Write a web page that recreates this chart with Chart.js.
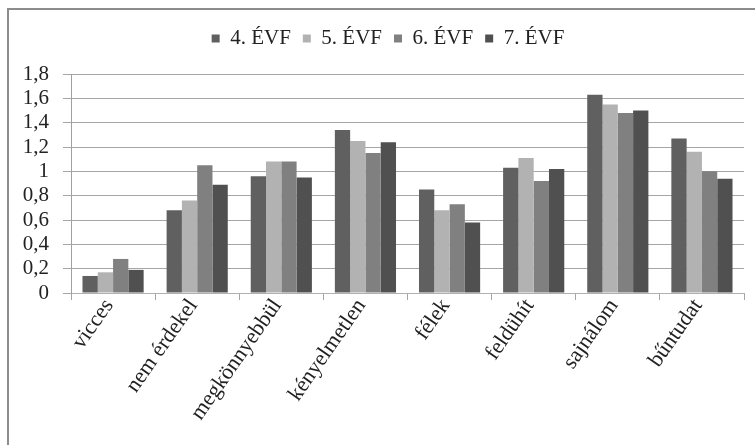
<!DOCTYPE html>
<html>
<head>
<meta charset="utf-8">
<script src="https://cdn.jsdelivr.net/npm/chart.js@4/dist/chart.umd.min.js"></script>
<style>
  html, body { margin: 0; padding: 0; background: #fff; }
  #wrap { width: 755px; height: 445px; position: relative; }
</style>
</head>
<body>
<div id="wrap"><canvas id="c" width="755" height="445"></canvas></div>
<script>
// Categories (x axis)
const categories = ['vicces', 'nem érdekel', 'megkönnyebbül', 'kényelmetlen', 'félek', 'feldühít', 'sajnálom', 'bűntudat'];

// Series names
const seriesNames = ['4. ÉVF', '5. ÉVF', '6. ÉVF', '7. ÉVF'];

// Series values, one per grade
const evf4 = [0.14, 0.68, 0.96, 1.34, 0.85, 1.03, 1.63, 1.27];
const evf5 = [0.17, 0.76, 1.08, 1.25, 0.68, 1.11, 1.55, 1.16];
const evf6 = [0.28, 1.05, 1.08, 1.15, 0.73, 0.92, 1.48, 1.00];
const evf7 = [0.19, 0.89, 0.95, 1.24, 0.58, 1.02, 1.50, 0.94];

// Y axis tick labels (Hungarian decimal comma)
const yTickLabels = ['0', '0,2', '0,4', '0,6', '0,8', '1', '1,2', '1,4', '1,6', '1,8'];

const seriesColors = ['#606060', '#b2b2b2', '#808080', '#505050'];
const serif = "'Liberation Serif', 'Times New Roman', serif";

// Outer frame around the whole chart
const framePlugin = {
  id: 'frame',
  beforeDraw(chart) {
    const ctx = chart.ctx;
    ctx.save();
    ctx.strokeStyle = '#8c8c8c';
    ctx.lineWidth = 2;
    ctx.strokeRect(8, 9, 800, 500);
    ctx.restore();
  }
};

// Extra space below the legend, and legend centred over the plot
const legendPlacePlugin = {
  id: 'legendPlace',
  beforeLayout(chart) {
    const lg = chart.legend;
    if (lg && !lg._gapPatched) {
      const fit = lg.fit;
      lg.fit = function () { fit.call(this); this.height += 15; };
      lg._gapPatched = true;
    }
  },
  afterLayout(chart) {
    const lg = chart.legend;
    if (lg) { lg.left += 16; lg.right += 16; }
  }
};

new Chart(document.getElementById('c'), {
  type: 'bar',
  data: {
    labels: categories,
    datasets: [evf4, evf5, evf6, evf7].map((d, i) => ({
      label: seriesNames[i],
      data: d,
      backgroundColor: seriesColors[i],
      borderWidth: 0,
      categoryPercentage: 0.727,
      barPercentage: 1.0
    }))
  },
  options: {
    responsive: false,
    animation: false,
    devicePixelRatio: 1,
    layout: { padding: { left: 0, right: 11, top: 16, bottom: 0 } },
    plugins: {
      legend: {
        position: 'top',
        labels: {
          boxWidth: 8,
          boxHeight: 8,
          padding: 12,
          color: '#222',
          font: { family: serif, size: 21 }
        }
      },
      tooltip: { enabled: false }
    },
    scales: {
      x: {
        afterFit(scale) { scale.height = 152; },
        grid: {
          offset: true,
          drawOnChartArea: false,
          drawTicks: true,
          tickLength: 7,
          color: '#a6a6a6'
        },
        border: { color: '#b0b0b0', width: 1 },
        ticks: {
          autoSkip: false,
          minRotation: 55,
          maxRotation: 55,
          padding: -6,
          labelOffset: -4,
          color: '#222',
          font: { family: serif, size: 22 }
        }
      },
      y: {
        min: 0,
        max: 1.8,
        afterFit(scale) { scale.width = 71; },
        afterBuildTicks(scale) {
          scale.ticks = yTickLabels.map((_, i) => ({ value: i * 0.2 }));
        },
        grid: {
          color: '#a6a6a6',
          lineWidth: 1,
          drawTicks: true,
          tickLength: 8
        },
        border: { color: '#a0a0a0', width: 1 },
        ticks: {
          autoSkip: false,
          padding: 14,
          color: '#222',
          font: { family: serif, size: 21 },
          callback: (v, i) => yTickLabels[i]
        }
      }
    }
  },
  plugins: [framePlugin, legendPlacePlugin]
});
</script>
</body>
</html>
